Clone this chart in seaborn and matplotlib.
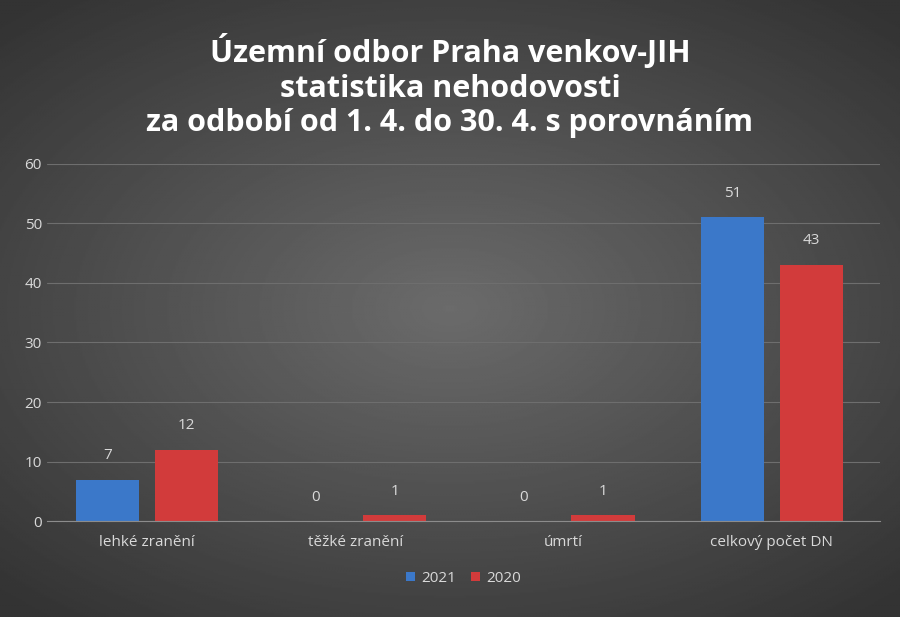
import numpy as np
import pandas as pd
import matplotlib
matplotlib.use("Agg")
import matplotlib.pyplot as plt
import seaborn as sns

categories = ["lehké zranění", "těžké zranění", "úmrtí", "celkový počet DN"]
series_names = ["2021", "2020"]
values_2021 = [7, 0, 0, 51]
values_2020 = [12, 1, 1, 43]
colors = ["#3b78c9", "#d23b3b"]

sns.set_style("dark")
plt.rcParams['font.family'] = ['Open Sans', 'DejaVu Sans']

df = pd.DataFrame({
    "cat": categories * 2,
    "year": [series_names[0]] * 4 + [series_names[1]] * 4,
    "val": values_2021 + values_2020,
})

fig = plt.figure(figsize=(9, 6.17), dpi=100)
bg = fig.add_axes([0, 0, 1, 1], zorder=-10)
yy, xx = np.mgrid[-1:1:400j, -1:1:600j]
r = np.sqrt((xx * 0.9) ** 2 + (yy * 1.0) ** 2)
bg.imshow(0.42 - 0.22 * np.clip(r, 0, 1.3) / 1.3, cmap="gray", vmin=0, vmax=1,
          aspect="auto", extent=[0, 1, 0, 1])
bg.axis("off")

ax = fig.add_axes([0.052, 0.155, 0.926, 0.58])
ax.set_facecolor("none")
sns.barplot(data=df, x="cat", y="val", hue="year", palette=colors,
            width=0.76, gap=0.2, ax=ax, edgecolor="none", saturation=1, legend=True)
for c in ax.containers:
    ax.bar_label(c, padding=12, color="#d9d9d9", fontsize=11)
ax.set_ylim(0, 60)
ax.set_yticks(range(0, 61, 10))
ax.grid(axis="y", color="#6e6e6e", lw=0.8)
ax.grid(axis="x", visible=False)
ax.set_axisbelow(True)
for s in ["top", "right", "left"]:
    ax.spines[s].set_visible(False)
ax.spines["bottom"].set_color("#8c8c8c")
ax.tick_params(colors="#d9d9d9", labelsize=11, length=0)
ax.tick_params(axis="x", pad=10)
ax.set_xlabel("")
ax.set_ylabel("")
ax.set_xlim(-0.48, 3.52)
ax.legend(loc="upper center", bbox_to_anchor=(0.5, -0.1), ncol=2, frameon=False,
          labelcolor="#d9d9d9", fontsize=11, handlelength=0.6, handleheight=0.6,
          columnspacing=1.0, handletextpad=0.4)
fig.text(0.5, 0.86, "Územní odbor Praha venkov-JIH\nstatistika nehodovosti\nza odbobí od 1. 4. do 30. 4. s porovnáním",
         ha="center", va="center", color="white", fontsize=22, fontweight="bold",
         linespacing=1.2)
fig.savefig("out.png", dpi=100)
